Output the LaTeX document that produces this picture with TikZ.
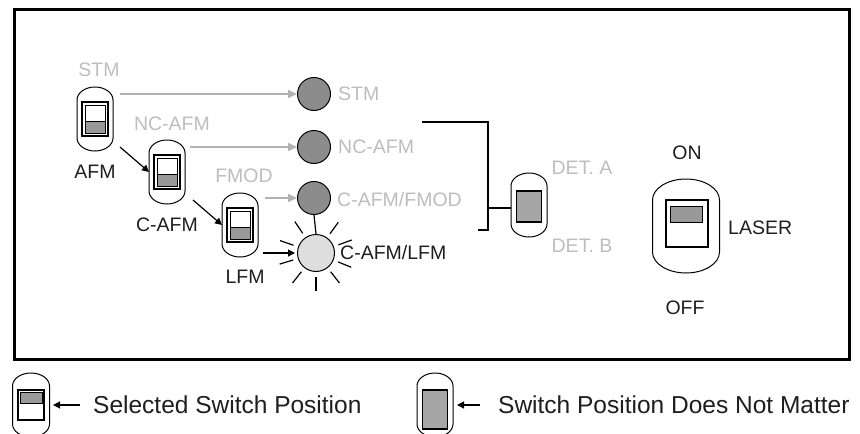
\documentclass[tikz,border=0pt]{standalone}
\usepackage{fontspec}
\setmainfont{Liberation Sans}
\usetikzlibrary{arrows.meta,calc}

\definecolor{lblgray}{HTML}{BDBDBD}
\definecolor{arrgray}{HTML}{B2B2B2}
\definecolor{darkdot}{HTML}{8C8C8C}
\definecolor{litdot}{HTML}{DEDEDE}
\definecolor{levergray}{HTML}{999999}
\definecolor{anygray}{HTML}{A6A6A6}
\definecolor{inkblack}{HTML}{1E1E1E}

\tikzset{
  ovl/.style={draw=black,line width=1pt},
  swframe/.style={draw=black,line width=1.4pt,fill=white},
  swinner/.style={draw=black,line width=0.9pt},
  leverbox/.style={draw=black,line width=1pt,fill=levergray},
  anybox/.style={draw=black,line width=1.4pt,fill=anygray},
  swnode/.style={minimum width=36pt,minimum height=64pt,inner sep=0pt,outer sep=0pt},
  dot/.style={circle,draw=black,line width=1pt,fill=darkdot,minimum size=33pt,inner sep=0pt},
  litdotstyle/.style={dot,fill=litdot,minimum size=37pt},
  graylbl/.style={text=lblgray,font=\fontsize{19.5}{22}\selectfont,inner sep=0pt},
  blacklbl/.style={text=inkblack,font=\fontsize{19.5}{22}\selectfont,inner sep=0pt},
  legendlbl/.style={text=inkblack,font=\fontsize{24.5}{28}\selectfont,inner sep=0pt},
  garrow/.style={draw=arrgray,line width=1.5pt,-{Triangle[length=9pt,width=8pt]}},
  karrow/.style={draw=black,line width=1.2pt,-{Triangle[length=7pt,width=7pt]}},
  bracket/.style={draw=black,line width=1.5pt},
  rayline/.style={draw=black,line width=1.2pt},
  pics/ovalshape/.style n args={3}{code={
    \draw[ovl] (-#1,{#2-#3}) -- (-#1,{-#2+#3})
      .. controls (-#1,{-#2+0.45*#3}) and ({-0.55*#1},-#2) .. (0,-#2)
      .. controls ({0.55*#1},-#2) and (#1,{-#2+0.45*#3}) .. (#1,{-#2+#3})
      -- (#1,{#2-#3})
      .. controls (#1,{#2-0.45*#3}) and ({0.55*#1},#2) .. (0,#2)
      .. controls ({-0.55*#1},#2) and (-#1,{#2-0.45*#3}) .. cycle;
  }},
  pics/toggle/.style={code={
    \pic {ovalshape={18}{32}{13}};
    \draw[swframe] (-13,-17) rectangle (13,17);
    \draw[swinner] (-10,-14) rectangle (10,14);
    \draw[leverbox] (-10,#1) rectangle (10,{#1+12});
  }},
  pics/anyswitch/.style={code={
    \pic {ovalshape={18}{32}{13}};
    \draw[anybox] (-12.5,-14) rectangle (12.5,17);
  }},
}

\begin{document}
\begin{tikzpicture}[x=1pt,y=-1pt]
\useasboundingbox (0,0) rectangle (860,434);
\clip (0,0) rectangle (860,434);
\draw[line width=3pt] (14,9) rectangle (849,359);

% mode switches
\node[swnode] (afm) at (95,119) {};
\pic at (afm) {toggle=2};
\node[swnode] (cafm) at (167,172) {};
\pic at (cafm) {toggle=2};
\node[swnode] (lfm) at (240,225) {};
\pic at (lfm) {toggle=2};

\node[graylbl] (lstm) at (99,70) {STM};
\node[blacklbl] (lafm) at (95,172) {AFM};
\node[graylbl] (lncafm) at (172,124) {NC-AFM};
\node[blacklbl] (lcafm) at (167,225) {C-AFM};
\node[graylbl] (lfmod) at (244,176) {FMOD};
\node[blacklbl] (llfm) at (245,277) {LFM};

% indicator lamps
\node[dot] (stmc) at (314,94) {};
\node[dot] (ncc) at (314,147) {};
\node[dot] (fmc) at (314,198) {};
\node[litdotstyle] (lfc) at (316,253) {};

\draw[rayline] (fmc.south) -- (lfc.north);
\foreach \a in {20,54,124,161,197,232,270,308,338}
  \draw[rayline] ($(lfc.center)!1.25!(lfc.\a)$) -- ($(lfc.center)!2.0!(lfc.\a)$);

\node[graylbl,anchor=west] (rstm) at (338,94) {STM};
\node[graylbl,anchor=west] (rnc) at (338,147) {NC-AFM};
\node[graylbl,anchor=west] (rfm) at (337,200) {C-AFM/FMOD};
\node[blacklbl,anchor=west] (rlf) at (340,253) {C-AFM/LFM};

% connectors
\draw[garrow,shorten <=7pt] (afm.east |- stmc.west) -- (stmc.west);
\draw[garrow,shorten <=5pt] (cafm.east |- ncc.west) -- (ncc.west);
\draw[garrow,shorten <=7pt] (lfm.east |- fmc.west) -- (fmc.west);
\draw[karrow,shorten <=5pt,shorten >=2pt] (lfm.east |- lfc.west) -- (lfc.west);
\draw[karrow] ([xshift=7pt,yshift=4pt]afm.south east) -- (cafm.west);
\draw[karrow] ([xshift=8pt,yshift=4pt]cafm.south east) -- (lfm.west);

% detector switch
\node[swnode] (det) at (529,205) {};
\pic at (det) {anyswitch};
\node[graylbl] (deta) at (582,168) {DET. A};
\node[graylbl] (detb) at (582,246) {DET. B};
\coordinate (brtop) at (422,122);
\coordinate (brbot) at (478,230);
\coordinate (brmid) at (488,208);
\draw[bracket] (brtop) -| (brmid |- brbot) -- (brbot);
\draw[bracket] (brmid) -- (det.west |- brmid);

% laser switch
\node[minimum width=67pt,minimum height=94pt,inner sep=0pt] (laser) at (686,226) {};
\pic at (laser) {ovalshape={33.5}{47}{21}};
\begin{scope}[shift={(laser)}]
  \draw[swframe] (-20,-26) rectangle (22,21);
  \draw[leverbox] (-16,-20) rectangle (16,-4);
\end{scope}
\node[blacklbl] (lon) at (687,153) {ON};
\node[blacklbl] (loff) at (685,308) {OFF};
\node[blacklbl,anchor=west] (llaser) at (728,228) {LASER};

% legend
\node[swnode] (leg1) at (31,405) {};
\pic at (leg1) {ovalshape={18.5}{32}{13}};
\begin{scope}[shift={(leg1)}]
  \draw[swframe] (-13,-15) rectangle (13,15);
  \draw[leverbox] (-11,-13) rectangle (11,-2);
\end{scope}
\node[legendlbl,anchor=west] (leg1t) at (93,405) {Selected Switch Position};
\draw[karrow,shorten <=13pt,shorten >=4pt] (leg1t.west) -- (leg1.east);

\node[swnode] (leg2) at (435,405) {};
\pic at (leg2) {ovalshape={18}{32}{13}};
\begin{scope}[shift={(leg2)}]
  \draw[anybox] (-12.5,-15) rectangle (12.5,24);
\end{scope}
\node[legendlbl,anchor=west] (leg2t) at (498,405) {Switch Position Does Not Matter};
\draw[karrow,shorten <=18pt,shorten >=4pt] (leg2t.west) -- (leg2.east);
\end{tikzpicture}
\end{document}
